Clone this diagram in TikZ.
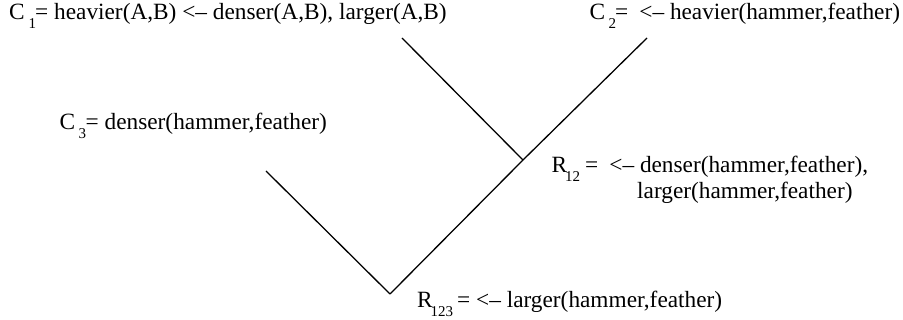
\documentclass[tikz,border=0pt]{standalone}
\usepackage{fontspec}
\setmainfont{Liberation Serif}
\newcommand\mysub[1]{\raisebox{-8.5pt}{\fontsize{15}{15}\selectfont #1}}
\begin{document}
\begin{tikzpicture}[x=1pt,y=-1pt,
  lbl/.style={anchor=base west,inner sep=0pt,font=\fontsize{23.3}{27}\selectfont},
  branch/.style={line width=1.3pt,line cap=butt}]
\useasboundingbox (0,0) rectangle (903,320);
% junction points
\coordinate (c1) at (402,38);
\coordinate (c2) at (647,38);
\coordinate (c3) at (266,171);
\coordinate (r12) at (523,160);
\coordinate (r123) at (390,294);
\draw[branch] (c1) -- (r12);
\draw[branch] (c2) -- (r12) -- (r123);
\draw[branch] (c3) -- (r123);
% labels
\node[lbl] (lc1) at (9,20) {C\hspace{4pt}\mysub{1}\hspace{-1pt}= heavier(A,B) <– denser(A,B), larger(A,B)};
\node[lbl] (lc2) at (589.5,20) {C\hspace{3.5pt}\mysub{2}\hspace{-1pt}=\hspace{11pt}<– heavier(hammer,feather)};
\node[lbl] (lc3) at (59.5,130) {C\hspace{3.5pt}\mysub{3}\hspace{-0.5pt}= denser(hammer,feather)};
\node[lbl] (lr12) at (551.5,173) {R\hspace{-2pt}\mysub{12}\hspace{5pt}=\hspace{11pt}<– denser(hammer,feather),};
\node[lbl] (lr12b) at (637,199) {larger(hammer,feather)};
\node[lbl] (lr123) at (417,308) {R\hspace{-2pt}\mysub{123}\hspace{4pt}= <– larger(hammer,feather)};
\end{tikzpicture}
\end{document}
